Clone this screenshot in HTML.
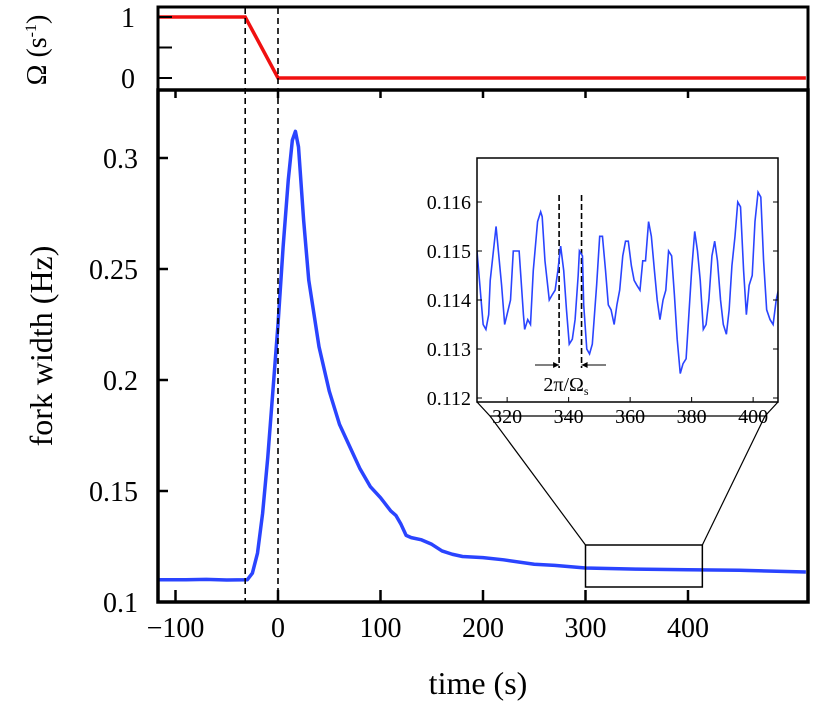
<!DOCTYPE html>
<html><head><meta charset="utf-8"><style>
body{margin:0;background:#fff}
svg{display:block;font-family:"Liberation Serif",serif}
</style></head><body>
<svg width="814" height="707" viewBox="0 0 814 707">
<defs>
<clipPath id="cm"><rect x="158" y="90" width="650" height="512"/></clipPath>
<clipPath id="ci"><rect x="477" y="158" width="301" height="244"/></clipPath>
</defs>
<g id="topPanel"></g><g id="mainPanel"></g><g id="insetPanel"></g>
</svg>
<script>
const omegaT=[-117,-32,0,515];
const omegaV=[1,1,0,0];
const mainT=[-117,-90,-70,-50,-30,-25,-20,-15,-10,-5,0,5,10,14,17,20,25,30,40,50,60,70,80,90,100,110,115,120,125,130,140,150,160,170,180,200,220,250,270,300,350,400,450,515];
const mainV=[0.1100,0.1100,0.1102,0.1099,0.1100,0.113,0.122,0.140,0.165,0.195,0.225,0.260,0.290,0.308,0.312,0.305,0.272,0.245,0.215,0.195,0.180,0.170,0.160,0.152,0.147,0.141,0.139,0.135,0.130,0.129,0.128,0.126,0.123,0.1215,0.1205,0.120,0.119,0.117,0.1165,0.1153,0.1148,0.1145,0.1143,0.1135];
const insetT=[310.2,312.2,313.1,314.0,314.5,316.4,318.2,319.2,321.1,322.0,322.9,323.9,325.3,325.7,326.7,327.6,328.5,329.9,330.9,331.4,332.3,333.7,334.6,335.6,336.5,337.4,338.4,339.3,340.2,341.2,342.1,343.1,343.5,344.5,344.9,345.9,346.8,347.7,349.1,350.1,351.0,352.0,352.9,353.8,354.8,355.7,356.6,357.6,358.5,359.4,360.4,361.3,362.2,363.2,364.1,365.0,366.0,366.9,367.9,368.8,369.7,370.7,371.6,372.5,373.5,374.4,375.3,376.3,377.2,378.2,379.1,380.0,381.0,381.9,382.8,383.8,384.7,385.6,386.6,387.5,388.4,389.4,390.3,391.3,392.2,393.1,394.1,395.0,395.9,396.9,397.8,398.7,399.7,400.6,401.6,402.5,403.4,404.4,405.5,406.5,407.5,408.2];
const insetV=[0.1150,0.1135,0.1134,0.1137,0.1144,0.1155,0.1143,0.1135,0.1140,0.1150,0.1150,0.1150,0.1137,0.1134,0.1136,0.1135,0.1146,0.1156,0.1158,0.1157,0.1148,0.1140,0.1141,0.1142,0.1146,0.1151,0.1146,0.1138,0.1131,0.1132,0.1136,0.1145,0.1150,0.1149,0.1139,0.1130,0.1129,0.1131,0.1143,0.1153,0.1153,0.1146,0.1139,0.1138,0.1135,0.1139,0.1142,0.1149,0.1152,0.1152,0.1147,0.1144,0.1143,0.1142,0.1148,0.1148,0.1156,0.1153,0.1146,0.1140,0.1136,0.1140,0.1142,0.1150,0.1149,0.1141,0.1132,0.1125,0.1127,0.1128,0.1137,0.1146,0.1154,0.1150,0.1144,0.1134,0.1135,0.1140,0.1149,0.1152,0.1148,0.1140,0.1135,0.1133,0.1138,0.1147,0.1153,0.1160,0.1159,0.1146,0.1137,0.1143,0.1145,0.1156,0.1162,0.1161,0.1148,0.1138,0.1136,0.1135,0.1140,0.1142];
const periodT=[336.9,344.2];
const xTicks=[-100,0,100,200,300,400];
const yTicks=[0.1,0.15,0.2,0.25,0.3];
const yTickLabels=["0.1","0.15","0.2","0.25","0.3"];
const oTicks=[0,0.5,1];
const iXTicks=[320,340,360,380,400];
const iYTicks=[0.112,0.113,0.114,0.115,0.116];
const NS="http://www.w3.org/2000/svg";
const X=t=>278+1.025*t;
const Y=v=>602-(v-0.1)*2220;
const YO=v=>78-61*v;
const IX=t=>477+(t-310.2)*3.075;
const IY=v=>202-(v-0.116)*49000;
function mk(p,tag,a,txt){const e=document.createElementNS(NS,tag);for(const k in a)e.setAttribute(k,a[k]);if(txt!=null)e.textContent=txt;p.appendChild(e);return e;}
const gTop=document.getElementById('topPanel'),gMain=document.getElementById('mainPanel'),gIns=document.getElementById('insetPanel');
let e;
e=mk(gTop,'polyline',{points:omegaT.map((t,i)=>X(t)+','+YO(omegaV[i])).join(' '),fill:'none',stroke:'#f01010','stroke-width':3.5});


oTicks.forEach(v=>{mk(gTop,'line',{x1:158,x2:172,y1:YO(v),y2:YO(v),stroke:'#000','stroke-width':2});});
[[1,'1'],[0,'0']].forEach(([v,s])=>{e=mk(gTop,'text',{x:135,y:YO(v)+10,'font-size':28,'text-anchor':'end'},s);

});
e=mk(gTop,'rect',{x:158,y:7,width:650,height:83,fill:'none',stroke:'#000','stroke-width':3});


e=mk(gTop,'text',{transform:'translate(46,50) rotate(-90)','font-size':28,'text-anchor':'middle'});
e.innerHTML='Ω (s<tspan font-size="16" dy="-10">-1</tspan><tspan dy="10">)</tspan>';


const mg=mk(gMain,'g',{'clip-path':'url(#cm)'});
[-32,0].forEach(t=>{e=mk(gMain,'line',{x1:X(t),x2:X(t),y1:8,y2:602,stroke:'#000','stroke-width':1.6,'stroke-dasharray':'6,4'});

});
e=mk(mg,'polyline',{points:mainT.map((t,i)=>X(t)+','+Y(mainV[i])).join(' '),fill:'none',stroke:'#2a44ff','stroke-width':3.5,'stroke-linejoin':'round'});


xTicks.forEach(t=>{mk(gMain,'line',{x1:X(t),x2:X(t),y1:602,y2:590,stroke:'#000','stroke-width':2.5});mk(gMain,'line',{x1:X(t),x2:X(t),y1:90,y2:98,stroke:'#000','stroke-width':2.5});
 e=mk(gMain,'text',{x:X(t),y:637,'font-size':28,'text-anchor':'middle'},t<0?'−'+(-t):String(t));

});
yTicks.forEach((v,i)=>{mk(gMain,'line',{x1:158,x2:168,y1:Y(v),y2:Y(v),stroke:'#000','stroke-width':2.5});
 e=mk(gMain,'text',{x:138,y:Y(v)+10,'font-size':28,'text-anchor':'end'},yTickLabels[i]);

});
e=mk(gMain,'rect',{x:158,y:90,width:650,height:512,fill:'none',stroke:'#000','stroke-width':3.5});


e=mk(gMain,'text',{x:478,y:694,'font-size':32,'text-anchor':'middle'},'time (s)');


e=mk(gMain,'text',{transform:'translate(52,346) rotate(-90)','font-size':32,'text-anchor':'middle'},'fork width (Hz)');


e=mk(gMain,'rect',{x:X(300),y:545,width:X(414)-X(300),height:42,fill:'none',stroke:'#000','stroke-width':1.5});


mk(gMain,'line',{x1:X(300),y1:545,x2:490,y2:416,stroke:'#000','stroke-width':1.2});
mk(gMain,'line',{x1:X(414),y1:545,x2:765,y2:416,stroke:'#000','stroke-width':1.2});
e=mk(gIns,'polygon',{points:'477,158 778,158 778,402 765,416 490,416 477,402',fill:'#fff',stroke:'none'});


mk(gIns,'polyline',{points:'477,402 490,416 765,416 778,402',fill:'none',stroke:'#000','stroke-width':1.2});
periodT.forEach(t=>{e=mk(gIns,'line',{x1:IX(t),x2:IX(t),y1:195,y2:368,stroke:'#000','stroke-width':1.6,'stroke-dasharray':'6,3'});

});
e=mk(gIns,'polyline',{points:insetT.map((t,i)=>IX(t)+','+IY(insetV[i])).join(' '),fill:'none',stroke:'#2a44ff','stroke-width':1.6,'clip-path':'url(#ci)'});


mk(gIns,'line',{x1:535,x2:IX(periodT[0]),y1:365,y2:365,stroke:'#000','stroke-width':1});
mk(gIns,'polygon',{points:`${IX(periodT[0])},365 ${IX(periodT[0])-6},362 ${IX(periodT[0])-6},368`,fill:'#000'});
mk(gIns,'line',{x1:IX(periodT[1]),x2:606,y1:365,y2:365,stroke:'#000','stroke-width':1});
mk(gIns,'polygon',{points:`${IX(periodT[1])},365 ${IX(periodT[1])+6},362 ${IX(periodT[1])+6},368`,fill:'#000'});
e=mk(gIns,'text',{x:566,y:391,'font-size':20,'text-anchor':'middle'});
e.innerHTML='2π/Ω<tspan font-size="12" dy="4">s</tspan>';


iXTicks.forEach(t=>{mk(gIns,'line',{x1:IX(t),x2:IX(t),y1:402,y2:397,stroke:'#000','stroke-width':1});
 e=mk(gIns,'text',{x:IX(t),y:423,'font-size':20,'text-anchor':'middle'},String(t));

});
iYTicks.forEach(v=>{mk(gIns,'line',{x1:477,x2:482,y1:IY(v),y2:IY(v),stroke:'#000','stroke-width':1});mk(gIns,'line',{x1:778,x2:773,y1:IY(v),y2:IY(v),stroke:'#000','stroke-width':1});
 e=mk(gIns,'text',{x:471,y:IY(v)+7,'font-size':20,'text-anchor':'end'},v.toFixed(3));

});
e=mk(gIns,'rect',{x:477,y:158,width:301,height:244,fill:'none',stroke:'#000','stroke-width':1.5});


</script>
</body></html>
